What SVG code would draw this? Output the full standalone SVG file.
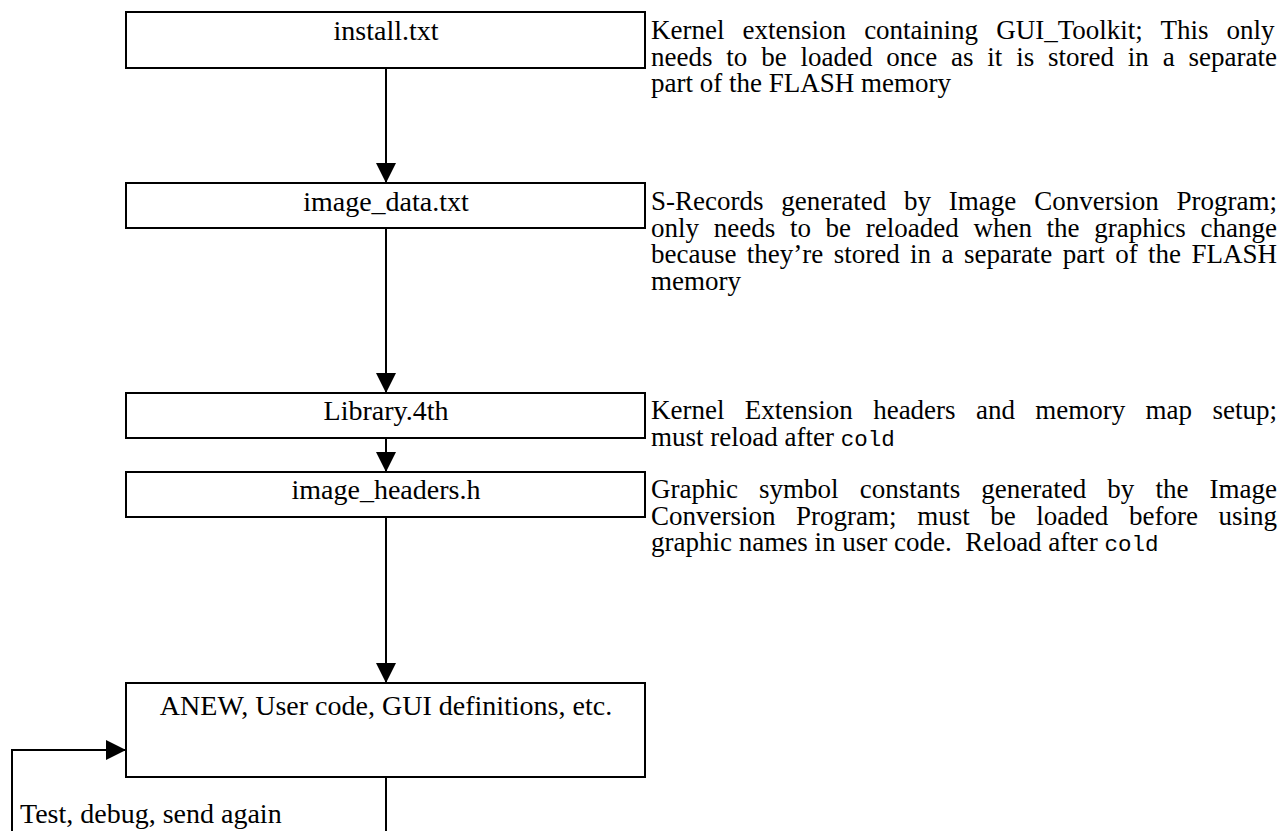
<svg xmlns="http://www.w3.org/2000/svg" width="1288" height="831" viewBox="0 0 1288 831">
  <style>
    .box { fill: #ffffff; stroke: #000000; stroke-width: 2; }
    .lbl { font-family: "Liberation Serif", "Times New Roman", serif; font-size: 28px; fill: #000000; text-anchor: middle; }
    .note { font-family: "Liberation Serif", "Times New Roman", serif; font-size: 27px; fill: #000000; }
    .mono { font-family: "Liberation Mono", "Courier New", monospace; font-size: 22.5px; }
    .wire { fill: none; stroke: #000000; stroke-width: 2; }
  </style>
  <defs>
    <marker id="arrow" viewBox="0 0 20 20" refX="20" refY="10" markerWidth="20" markerHeight="20" markerUnits="userSpaceOnUse" orient="auto">
      <path d="M0,0 L20,10 L0,20 Z" fill="#000000"/>
    </marker>
  </defs>

  <rect width="1288" height="831" fill="#ffffff"/>

  <!-- connectors -->
  <g id="connectors">
    <line class="wire" x1="386" y1="68" x2="386" y2="183" marker-end="url(#arrow)"/>
    <line class="wire" x1="386" y1="228" x2="386" y2="393" marker-end="url(#arrow)"/>
    <line class="wire" x1="386" y1="438" x2="386" y2="472" marker-end="url(#arrow)"/>
    <line class="wire" x1="386" y1="517" x2="386" y2="683" marker-end="url(#arrow)"/>
    <line class="wire" x1="386" y1="777" x2="386" y2="831"/>
    <polyline class="wire" points="12,831 12,750 126,750" marker-end="url(#arrow)"/>
  </g>

  <!-- install.txt -->
  <g id="node-install">
    <rect class="box" x="126" y="12" width="519" height="56"/>
    <text class="lbl" x="386" y="40">install.txt</text>
    <text class="note" x="651" y="39" word-spacing="11.35">Kernel extension containing GUI_Toolkit; This only</text>
    <text class="note" x="651" y="65.5" word-spacing="7.08">needs to be loaded once as it is stored in a separate</text>
    <text class="note" x="651" y="92">part of the FLASH memory</text>
  </g>

  <!-- image_data.txt -->
  <g id="node-image-data">
    <rect class="box" x="126" y="183" width="519" height="45"/>
    <text class="lbl" x="386" y="211">image_data.txt</text>
    <text class="note" x="651" y="210" word-spacing="11.07">S-Records generated by Image Conversion Program;</text>
    <text class="note" x="651" y="236.5" word-spacing="7.95">only needs to be reloaded when the graphics change</text>
    <text class="note" x="651" y="263" word-spacing="3.66">because they’re stored in a separate part of the FLASH</text>
    <text class="note" x="651" y="289.5">memory</text>
  </g>

  <!-- Library.4th -->
  <g id="node-library">
    <rect class="box" x="126" y="393" width="519" height="45"/>
    <text class="lbl" x="386" y="420">Library.4th</text>
    <text class="note" x="651" y="419" word-spacing="13.6">Kernel Extension headers and memory map setup;</text>
    <text class="note" x="651" y="445.5">must reload after <tspan class="mono">cold</tspan></text>
  </g>

  <!-- image_headers.h -->
  <g id="node-image-headers">
    <rect class="box" x="126" y="472" width="519" height="45"/>
    <text class="lbl" x="386" y="499">image_headers.h</text>
    <text class="note" x="651" y="498" word-spacing="14.35">Graphic symbol constants generated by the Image</text>
    <text class="note" x="651" y="524.5" word-spacing="13.85">Conversion Program; must be loaded before using</text>
    <text class="note" x="651" y="551" xml:space="preserve">graphic names in user code.  Reload after <tspan class="mono">cold</tspan></text>
  </g>

  <!-- ANEW, user code -->
  <g id="node-user-code">
    <rect class="box" x="126" y="683" width="519" height="94"/>
    <text class="lbl" x="386" y="715">ANEW, User code, GUI definitions, etc.</text>
  </g>

  <!-- loop-back label -->
  <g id="label-loop">
    <text class="note" x="20" y="823" style="font-size:28px">Test, debug, send again</text>
  </g>
</svg>
